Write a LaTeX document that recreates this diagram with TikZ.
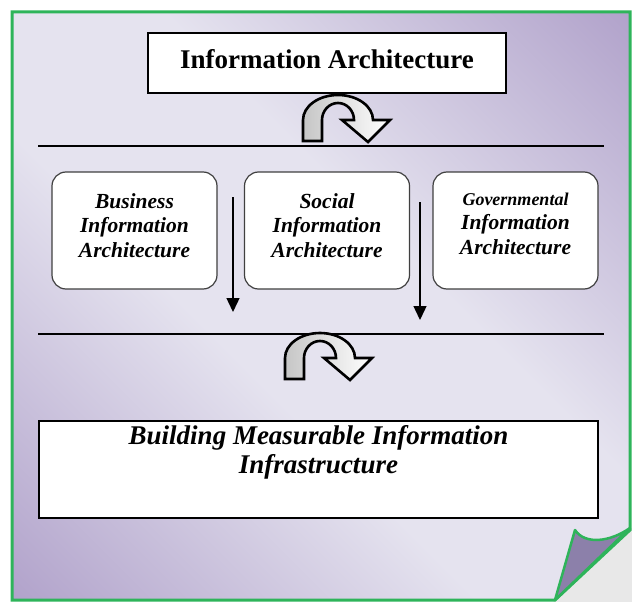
\documentclass[tikz,border=0pt]{standalone}
\usepackage{fontspec}
\setmainfont{Liberation Serif}
\usetikzlibrary{arrows.meta}
\definecolor{pagedark}{RGB}{176,161,202}
\definecolor{pagelight}{RGB}{229,227,239}
\definecolor{pagegreen}{RGB}{46,180,90}
\definecolor{flapcol}{RGB}{140,128,170}
\pgfdeclarehorizontalshading{pageshade}{100bp}{color(0bp)=(pagedark); color(14bp)=(pagedark); color(42bp)=(pagelight); color(58bp)=(pagelight); color(86bp)=(pagedark); color(100bp)=(pagedark)}
\begin{document}
\begin{tikzpicture}[x=1pt,y=-1pt,
  plainbox/.style={draw=black, line width=1.3, fill=white, inner sep=0},
  roundbox/.style={draw=black!75, line width=1.2, fill=white, rounded corners=14pt, inner sep=0,
    minimum width=165pt, minimum height=117pt},
  boxtext/.style={align=center, inner sep=0, font=\fontsize{21.5}{24.5}\selectfont\bfseries\itshape},
  bigtext/.style={align=center, inner sep=0, font=\fontsize{27}{29}\selectfont\bfseries\itshape},
  sepline/.style={line width=1.5},
  downarrow/.style={line width=1.4, -{Triangle[length=14pt,width=13pt]}},
  turnarrow/.style={draw=black, line width=2.6, line join=miter, left color=gray!45, right color=white},
]
\fill[white] (0,0) rectangle (632,602);
\useasboundingbox (0,0) rectangle (632,602);
% shadow of the curl
\fill[gray!18] (630,528) -- (632,528) -- (632,602) -- (553,602) -- cycle;
% page
\shade[shading=pageshade, shading angle=45]
  (12,12) -- (630,12) -- (630,530) -- (555,600) -- (12,600) -- cycle;
\draw[pagegreen, line width=3, line join=miter]
  (12,12) -- (630,12) -- (630,530) -- (555,600) -- (12,600) -- cycle;
% curled flap
\filldraw[fill=flapcol, draw=pagegreen, line width=2.5, line join=round]
  (555,600) -- (575,530) .. controls (585,545) and (610,542) .. (630,528) -- cycle;

% top box
\node[plainbox, minimum width=358pt, minimum height=60pt] (top) at (327,63) {};
\node[inner sep=0, font=\fontsize{27}{29}\selectfont\bfseries] (toptext) at ([yshift=4pt]top.center) {Information Architecture};

% separator lines
\coordinate (l1a) at (38,146);
\coordinate (l1b) at (604,146);
\coordinate (l2a) at (38,334);
\coordinate (l2b) at (604,334);
\draw[sepline] (l1a) -- (l1b);
\draw[sepline] (l2a) -- (l2b);

% curved arrows
\foreach \dx/\dy in {0/0, -18/238} {
  \draw[turnarrow, shift={(\dx,\dy)}]
    (303,141) -- (303,120) arc[start angle=180, end angle=360, x radius=35, y radius=25]
    -- (390,120) -- (368,142) -- (342,120) -- (354,120)
    arc[start angle=0, end angle=-180, x radius=16, y radius=17]
    -- (322,141) -- cycle;
}

% middle row
\node[roundbox] (b1) at (134.5,230.5) {};
\node[roundbox] (b2) at (327,230.5) {};
\node[roundbox] (b3) at (515.5,230.5) {};
\node[boxtext] (t1) at ([yshift=5pt]b1.center) {Business\\Information\\Architecture};
\node[boxtext] (t2) at ([yshift=5pt]b2.center) {Social\\Information\\Architecture};
\node[boxtext] (t3) at ([yshift=7pt]b3.center) {{\fontsize{18}{24.5}\selectfont Governmental}\\Information\\Architecture};

% vertical arrows
\coordinate (a1s) at (233,197);
\coordinate (a1e) at (233,312);
\coordinate (a2s) at (420,202);
\coordinate (a2e) at (420,320);
\draw[downarrow] (a1s) -- (a1e);
\draw[downarrow] (a2s) -- (a2e);

% bottom box
\node[plainbox, minimum width=559pt, minimum height=97pt] (bot) at (318.5,469.5) {};
\node[bigtext] (bottext) at ([yshift=17pt]bot.center) {Building Measurable Information\\Infrastructure};
\end{tikzpicture}
\end{document}
